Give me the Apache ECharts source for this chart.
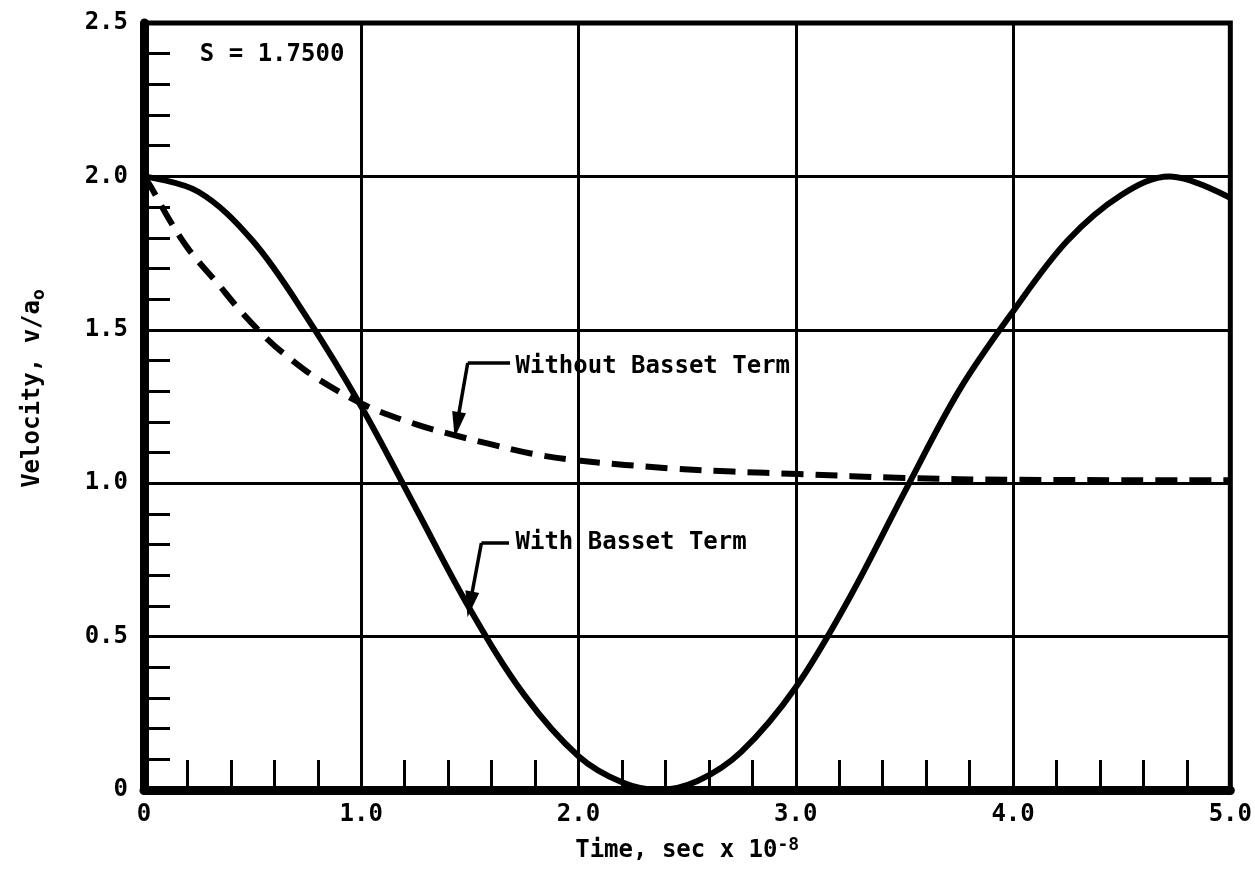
<!DOCTYPE html>
<html>
<head>
<meta charset="utf-8">
<script src="https://cdn.jsdelivr.net/npm/echarts@6/dist/echarts.min.js"></script>
<style>
html,body{margin:0;padding:0;background:#fff;}
#chart{width:1255px;height:877px;}
</style>
</head>
<body>
<div id="chart"></div>
<script>
// ---- Data ----
const withT = [0, 0.25, 0.5, 0.75, 1.0, 1.25, 1.5, 1.75, 2.0, 2.2, 2.37, 2.55, 2.75, 3.0, 3.25, 3.5, 3.75, 4.0, 4.25, 4.5, 4.72, 5.0];
const withV = [2.0, 1.95, 1.79, 1.54, 1.25, 0.92, 0.59, 0.31, 0.11, 0.025, 0.0, 0.03, 0.125, 0.335, 0.63, 0.97, 1.30, 1.56, 1.79, 1.94, 2.0, 1.93];
const withoutT = [0, 0.03, 0.12, 0.21, 0.34, 0.44, 0.57, 0.66, 0.8, 1.03, 1.26, 1.41, 1.59, 1.78, 2.0, 2.43, 2.71, 3.01, 3.5, 4.0, 4.5, 5.0];
const withoutV = [2.0, 1.968, 1.855, 1.758, 1.65, 1.565, 1.468, 1.413, 1.34, 1.25, 1.19, 1.16, 1.128, 1.097, 1.074, 1.048, 1.038, 1.03, 1.017, 1.011, 1.01, 1.01];

const xTicks = [0, 1, 2, 3, 4, 5];
const yTicks = [0, 0.5, 1.0, 1.5, 2.0, 2.5];

// annotation texts and anchor points (data coordinates)
const annoText = ['S = 1.7500', 'Without Basset Term', 'With Basset Term'];
const annoT = [0.257, 1.71, 1.71];
const annoV = [2.396, 1.379, 0.805];

// leader lines: [text end, elbow], arrows: [elbow, tip]
const leaderWithout = [[1.685, 1.392], [1.49, 1.392]];
const arrowWithout = [[1.49, 1.392], [1.44, 1.19]];
const leaderWith = [[1.68, 0.805], [1.553, 0.805]];
const arrowWith = [[1.553, 0.805], [1.50, 0.605]];

const FONT = 'DejaVu Sans Mono';

const chart = echarts.init(document.getElementById('chart'), null, {renderer: 'canvas'});

const pair = (ts, vs) => ts.map((t, i) => [t, vs[i]]);

const option = {
  animation: false,
  backgroundColor: '#fff',
  grid: {
    left: 144, right: 23, top: 23, bottom: 87,
    show: true, borderColor: '#000', borderWidth: 5, backgroundColor: 'transparent'
  },
  xAxis: {
    type: 'value',
    min: xTicks[0], max: xTicks[xTicks.length - 1], interval: 1,
    name: '{a|Time, sec x 10}{sup|-8}',
    nameLocation: 'middle',
    nameGap: 46,
    nameTextStyle: {
      rich: {
        a: {fontFamily: FONT, fontSize: 24, fontWeight: 'bold', color: '#000'},
        sup: {fontFamily: FONT, fontSize: 18, fontWeight: 'bold', color: '#000', padding: [0, 0, 12, 0]}
      }
    },
    axisLine: {show: true, lineStyle: {color: '#000', width: 9}},
    axisTick: {show: false, inside: true},
    minorTick: {show: true, splitNumber: 5, length: 30, lineStyle: {color: '#000', width: 3}},
    splitLine: {show: true, lineStyle: {color: '#000', width: 3}},
    axisLabel: {
      fontFamily: FONT, fontSize: 24, fontWeight: 'bold', color: '#000', margin: 13,
      formatter: v => v === 0 ? '0' : v.toFixed(1)
    }
  },
  yAxis: {
    type: 'value',
    min: yTicks[0], max: yTicks[yTicks.length - 1], interval: 0.5,
    name: '{a|Velocity, v/a}{sub|o}',
    nameLocation: 'middle',
    nameGap: 96,
    nameRotate: 90,
    nameTextStyle: {
      padding: [0, 0, 0, 36],
      rich: {
        a: {fontFamily: FONT, fontSize: 24, fontWeight: 'bold', color: '#000'},
        sub: {fontFamily: FONT, fontSize: 18, fontWeight: 'bold', color: '#000', padding: [12, 0, 0, 0]}
      }
    },
    axisLine: {show: true, lineStyle: {color: '#000', width: 9}},
    axisTick: {show: false, inside: true},
    minorTick: {show: true, splitNumber: 5, length: 26, lineStyle: {color: '#000', width: 3}},
    splitLine: {show: true, lineStyle: {color: '#000', width: 3}},
    axisLabel: {
      fontFamily: FONT, fontSize: 24, fontWeight: 'bold', color: '#000', margin: 16,
      formatter: v => v === 0 ? '0' : v.toFixed(1)
    }
  },
  series: [
    {
      name: 'With Basset Term',
      type: 'line',
      data: pair(withT, withV),
      showSymbol: false,
      smooth: 0.35,
      lineStyle: {color: '#000', width: 6},
      z: 3
    },
    {
      name: 'Without Basset Term',
      type: 'line',
      data: pair(withoutT, withoutV),
      showSymbol: false,
      smooth: 0.35,
      lineStyle: {color: '#000', width: 6, type: [22, 12]},
      z: 3
    },
    {
      type: 'lines',
      coordinateSystem: 'cartesian2d',
      symbol: 'none',
      lineStyle: {color: '#000', width: 3.5, opacity: 1},
      data: [{coords: leaderWithout}, {coords: leaderWith}],
      z: 4
    },
    {
      type: 'lines',
      coordinateSystem: 'cartesian2d',
      symbol: ['none', 'triangle'],
      symbolSize: [0, [14, 26]],
      lineStyle: {color: '#000', width: 3.5, opacity: 1},
      data: [{coords: arrowWithout}, {coords: arrowWith}],
      z: 4
    }
  ]
};
chart.setOption(option);

// annotation texts placed through the chart's own scales
const texts = annoText.map((txt, i) => {
  const p = chart.convertToPixel({gridIndex: 0}, [annoT[i], annoV[i]]);
  return {
    type: 'text',
    x: p[0], y: p[1],
    z: 10,
    style: {
      text: txt,
      fill: '#000',
      font: 'bold 24px "' + FONT + '"',
      textAlign: 'left',
      textVerticalAlign: 'middle'
    }
  };
});
chart.setOption({graphic: texts});
</script>
</body>
</html>
